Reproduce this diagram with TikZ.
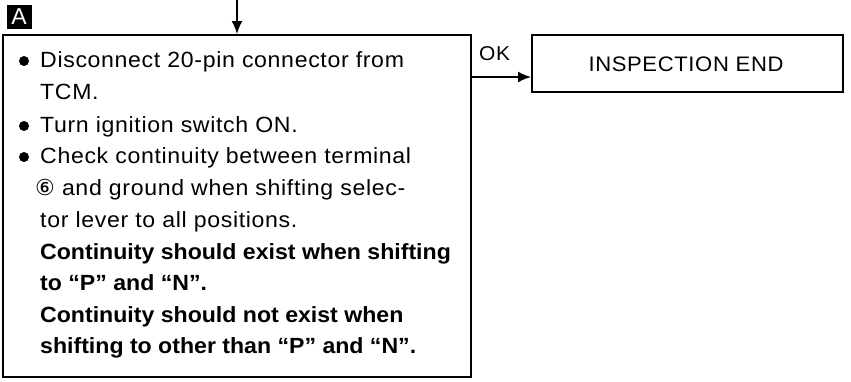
\documentclass[tikz,border=0pt]{standalone}
\usepackage{fontspec}
\setmainfont{Liberation Sans}
\newfontfamily\bodyfont{Liberation Sans}[FakeStretch=1.05,LetterSpace=3]
\newfontfamily\heavyfont{Liberation Sans}[FakeStretch=1.05]
\newfontfamily\dvsym{DejaVu Sans}
\usetikzlibrary{arrows.meta}
\begin{document}
\begin{tikzpicture}[x=1pt,y=-1pt,
  box/.style={draw,line width=2pt,rectangle,inner sep=0pt},
  txt/.style={anchor=base west,inner sep=0pt,font=\fontsize{22}{22}\bodyfont},
  btxt/.style={anchor=base west,inner sep=0pt,font=\fontsize{22}{22}\heavyfont\bfseries},
  dot/.style={circle,fill,inner sep=0pt,minimum size=10pt},
  conn/.style={line width=1.7pt,-{Latex[length=13pt,width=11pt]}}]
\useasboundingbox (0,0) rectangle (851,381);
% label A
\node[fill=black,text=white,minimum width=25pt,minimum height=24pt,inner sep=0pt,font=\fontsize{23}{23}\selectfont] (lab) at (19,16.5) {A};
% boxes
\node[box,minimum width=468pt,minimum height=342pt] (main) at (237,206) {};
\node[box,minimum width=311pt,minimum height=57pt] (end) at (687.5,63.5) {};
\node[inner sep=0pt,font=\fontsize{21}{21}\bodyfont] (endt) at (686,64) {INSPECTION END};
% connectors
\coordinate (top) at (237,0);
\draw[conn] (top) -- (main.north);
\coordinate (mr) at (main.east |- 0,77);
\draw[conn] (mr) -- (mr -| end.west);
\node[inner sep=0pt,anchor=base west,font=\fontsize{20}{20}\bodyfont] (ok) at (479,60) {OK};
% text
\node[dot] (d1) at (24,61) {};
\node[txt] (l1) at (40,67) {Disconnect 20-pin connector from};
\node[txt] (l2) at (40,99) {TCM.};
\node[dot] (d2) at (24,126) {};
\node[txt] (l3) at (40,132) {Turn ignition switch ON.};
\node[dot] (d3) at (24,157) {};
\node[txt] (l4) at (40,163) {Check continuity between terminal};
\node[txt] (l5) at (35,195) {{\dvsym\fontsize{22}{22}\selectfont ⑥} and ground when shifting selec-};
\node[txt] (l6) at (40,227) {tor lever to all positions.};
\node[btxt] (l7) at (40,259) {Continuity should exist when shifting};
\node[btxt] (l8) at (40,290) {to “P” and “N”.};
\node[btxt] (l9) at (40,322) {Continuity should not exist when};
\node[btxt] (l10) at (40,353) {shifting to other than “P” and “N”.};
\end{tikzpicture}
\end{document}
